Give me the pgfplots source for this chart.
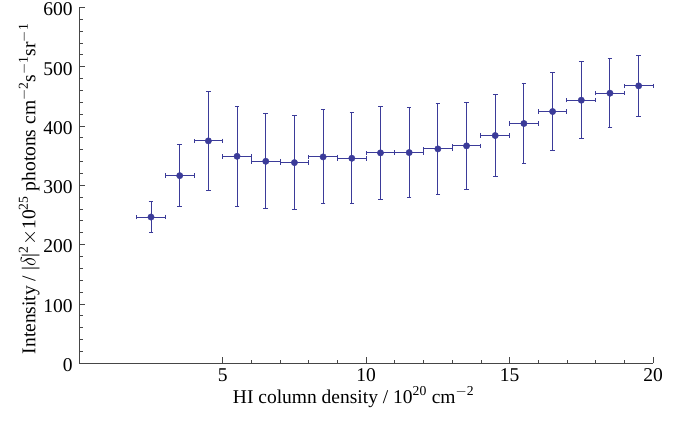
\documentclass[border=0pt]{standalone}
\usepackage{pgfplots}
\pgfplotsset{compat=1.18}
\usepackage{pgfplotstable}
\usepackage{fontspec}
\setmainfont{Liberation Serif}
\definecolor{pts}{RGB}{59,59,153}
\definecolor{ax}{RGB}{70,70,70}
\pgfplotstableread{
x y ex eyp eym
2.5 246.4 0.5 26.4 26.5
3.5 316.2 0.5 52.4 52.3
4.5 374.8 0.5 83.8 83.4
5.5 348.8 0.5 84.0 83.8
6.5 340.4 0.5 80.0 79.9
7.5 338.2 0.5 78.8 79.4
8.5 347.8 0.5 79.4 78.4
9.5 345.5 0.5 77.1 76.1
10.5 354.6 0.5 78.2 78.4
11.5 355.1 0.5 75.5 76.0
12.5 361.3 0.5 77.0 77.2
13.5 366.4 0.5 73.1 73.3
14.5 383.8 0.5 68.7 68.8
15.5 404.1 0.5 67.5 67.1
16.5 424.3 0.5 65.4 65.9
17.5 443.4 0.5 65.9 65.2
18.5 455.2 0.5 58.7 57.9
19.5 467.6 0.5 51.9 51.2
}\datatable
\begin{document}
\fontsize{19.5pt}{23pt}\selectfont
\begin{tikzpicture}
\path[use as bounding box] (-79.3pt,-60.8pt) rectangle (608.7pt,363.2pt);
\begin{axis}[
  at={(0pt,0pt)}, anchor=south west,
  scale only axis, width=573.7pt, height=355.9pt,
  xmin=0, xmax=20, ymin=0, ymax=600,
  axis lines=left,
  axis line style={-, ax, line width=0.8pt},
  xtick={5,10,15,20}, ytick={0,100,...,600},
  minor x tick num=4, minor y tick num=4,
  tick align=inside,
  major tick length=6pt, minor tick length=3.5pt,
  tick style={ax, line width=0.7pt},
  /pgf/number format/assume math mode=true,
  tick label style={font=\fontsize{19.5pt}{23pt}\selectfont},
  xticklabel style={yshift=1.5pt},
  yticklabel style={yshift=-2pt},
  label style={font=\fontsize{19.5pt}{23pt}\selectfont},
  xlabel={HI column density / 10\textsuperscript{20} cm\textsuperscript{$-$2}},
  ylabel={Intensity / |$\delta$|\textsuperscript{2}$\times$10\textsuperscript{25} photons cm\textsuperscript{$-$2}s\textsuperscript{$-$1}sr\textsuperscript{$-$1}},
  xlabel style={at={(axis description cs:0.478,0)}, anchor=base, yshift=-40pt},
  ylabel style={at={(axis description cs:0,0.49)}, anchor=base, yshift=44pt},
  clip=false,
]
\addplot[only marks, color=pts, mark=*, mark size=3.2pt, mark options={fill=pts, draw=pts},
  error bars/.cd, x dir=both, x explicit, y dir=both, y explicit,
  error bar style={color=pts, line width=1pt},
  error mark options={rotate=90, mark size=2.3pt, color=pts, line width=1pt}]
  table[x=x, y=y, x error=ex, y error plus=eyp, y error minus=eym] {\datatable};
\end{axis}
\end{tikzpicture}
\end{document}
